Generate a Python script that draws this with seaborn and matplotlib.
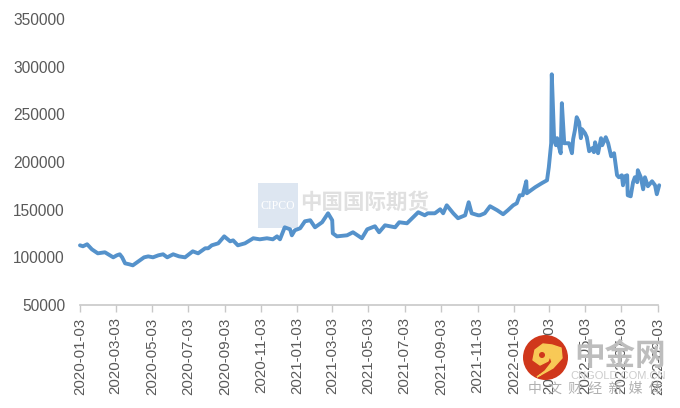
import matplotlib
matplotlib.use("Agg")
import matplotlib.pyplot as plt
from matplotlib.patches import Circle, PathPatch, Rectangle
from matplotlib.path import Path
import pandas as pd
import seaborn as sns

start_date = "2020-01-03"
tick_labels = ["2020-01-03", "2020-03-03", "2020-05-03", "2020-07-03", "2020-09-03",
               "2020-11-03", "2021-01-03", "2021-03-03", "2021-05-03", "2021-07-03",
               "2021-09-03", "2021-11-03", "2022-01-03", "2022-03-03", "2022-05-03",
               "2022-07-03", "2022-09-03"]
y_ticks = [50000, 100000, 150000, 200000, 250000, 300000, 350000]

# days after start_date
days = [0, 5, 12, 20, 30, 42, 56, 62, 67, 71, 76, 83, 89, 101, 108, 115, 123, 132, 140, 147,
        157, 167, 177, 190, 199, 211, 216, 222, 233, 243, 253, 258, 266, 278, 292, 303, 315,
        325, 332, 337, 345, 354, 357, 362, 371, 379, 388, 396, 408, 418, 425, 426, 433, 450,
        460, 475, 484, 497, 504, 514, 531, 538, 551, 570, 581, 586, 598, 607, 612, 618, 629,
        637, 649, 655, 660, 671, 674, 682, 691, 703, 713, 721, 730, 736, 741, 746, 752, 753,
        767, 778, 787, 790, 794, 795, 799, 802, 804, 805, 810, 812, 816, 824, 829, 831, 834,
        837, 841, 844, 846, 851, 854, 858, 863, 866, 868, 873, 878, 880, 886, 890, 895, 900,
        905, 908, 913, 915, 918, 922, 923, 928, 932, 935, 939, 940, 945, 949, 952, 957, 964,
        969, 972, 976]
prices = [112600, 111600, 113700, 108400, 104200, 105300, 100000, 102100, 103200, 100000,
          93700, 92700, 91600, 96900, 100000, 101000, 100000, 102100, 103200, 100000,
          103200, 101000, 100000, 106300, 104200, 109500, 109500, 112600, 114700, 122000,
          116800, 117800, 112600, 114700, 120000, 118900, 120000, 118900, 122000, 118900,
          131500, 129400, 123100, 128400, 130500, 137800, 138900, 131500, 136800, 146200,
          138900, 125200, 122000, 123100, 126300, 120000, 129400, 132600, 126300, 133600,
          131500, 136800, 135700, 147300, 144100, 146200, 146200, 150400, 146200, 154600,
          146200, 141000, 144100, 157800, 146200, 144100, 144100, 146200, 153600, 149400,
          145200, 149400, 154600, 156700, 165100, 165100, 179800, 167200, 173500, 177700,
          180850, 194500, 219700, 292000, 222900, 217600, 225000, 220700, 209200, 261700,
          219700, 219700, 209200, 223900, 233400, 247000, 241800, 225000, 234400, 230200,
          226000, 211300, 214500, 210300, 220700, 209200, 225000, 217600, 226000, 219700,
          206000, 209200, 186100, 184000, 186100, 175600, 185000, 186100, 165100, 164000,
          178800, 184000, 178800, 191400, 184000, 171400, 184000, 174600, 179800, 175600,
          166200, 175600]

dates = pd.Timestamp(start_date) + pd.to_timedelta(days, unit="D")
df = pd.DataFrame({"date": dates, "price": prices})

sns.set_theme(style="white")
plt.rcParams["font.family"] = ["Liberation Sans", "Noto Sans CJK SC"]
cjk = ["Noto Sans CJK SC", "DejaVu Sans"]
W, H = 680, 408

fig = plt.figure(figsize=(W / 100, H / 100), dpi=100)
ax = fig.add_axes([80 / W, 1 - 305 / H, 578 / W, 286 / H], zorder=1)
ax.patch.set_alpha(0)

# pale watermark behind the line
back = fig.add_axes([0, 0, 1, 1], zorder=0)
back.set_xlim(0, W)
back.set_ylim(H, 0)
back.axis("off")
back.add_patch(Rectangle((258, 183), 40, 45, color="#dde6f1", lw=0))
back.text(278, 206, "CIPCO", color="white", fontsize=8.5, family="Liberation Serif",
          ha="center", va="center")
back.text(365, 202, "中国国际期货", color="#e0e0e0", fontsize=15.5, family=cjk,
          fontweight="bold", ha="center", va="center")

sns.lineplot(data=df, x="date", y="price", ax=ax, color="#5592cb", linewidth=2.8,
             clip_on=False, errorbar=None, estimator=None)

tick_dates = pd.to_datetime(tick_labels)
ax.set_xlim(tick_dates[0], tick_dates[-1])
ax.set_ylim(50000, 350000)
ax.set_xticks(tick_dates)
ax.set_xticklabels(tick_labels, rotation=90, ha="center", va="top")
ax.set_yticks(y_ticks)
ax.set_xlabel("")
ax.set_ylabel("")
ax.tick_params(axis="x", length=5, width=1, color="#c8c8c8", labelsize=10.8,
               labelcolor="#595959", pad=4, bottom=True)
ax.tick_params(axis="y", length=0, labelsize=11.2, labelcolor="#595959", pad=10.8)
sns.despine(ax=ax, left=True)
ax.spines["bottom"].set_color("#c8c8c8")
ax.spines["bottom"].set_linewidth(1.2)

# site logo on top of the tick labels
over = fig.add_axes([0, 0, 1, 1], zorder=2)
over.set_xlim(0, W)
over.set_ylim(H, 0)
over.axis("off")
over.add_patch(Circle((545.5, 357.5), 22.5, color="#d0371b", lw=0))
swirl = Path([(537, 377), (553, 368), (562, 358), (561, 348), (552, 345), (543, 344),
              (535, 350), (533, 360), (540, 365), (548, 361), (550, 356), (552, 362),
              (545, 371), (537, 377)])
over.add_patch(PathPatch(swirl, facecolor="#f8c956", edgecolor="#f8c956", lw=1, joinstyle="round"))
over.add_patch(Circle((542, 355), 3, color="#d0371b", lw=0))
over.text(620, 356, "中金网", color="#bdbdbd", fontsize=22, family=cjk, fontweight="bold",
          ha="center", va="center")
over.text(618, 376, "CNGOLD.COM.CN", color="#cccccc", fontsize=8, ha="center", va="center")
over.text(595, 389, "中  文  财  经  新  媒  体", color="#b0b0b0", fontsize=10, family=cjk,
          ha="center", va="center")

fig.savefig("out.png", dpi=100)
